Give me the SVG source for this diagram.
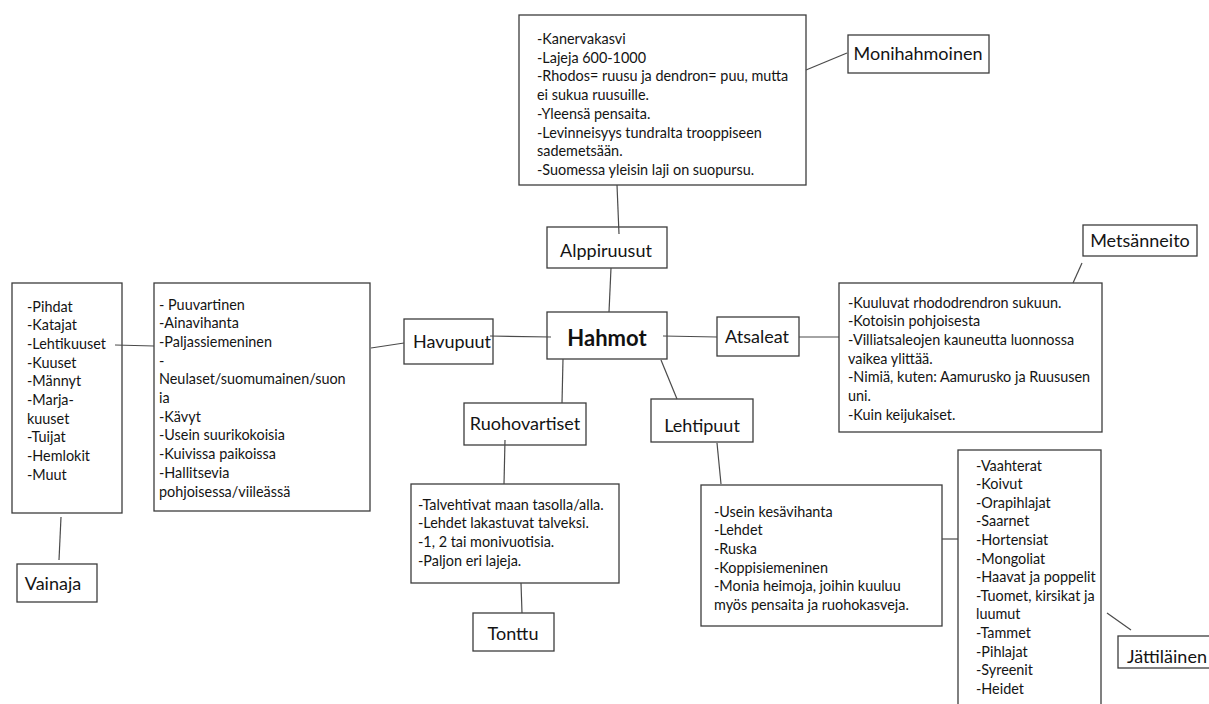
<svg xmlns="http://www.w3.org/2000/svg" width="1209" height="704" viewBox="0 0 1209 704">
  <style>
    .box { fill: #ffffff; stroke: #3c3c3c; stroke-width: 1.3; }
    .link { stroke: #4a4a4a; stroke-width: 1.2; fill: none; }
    .body { font-family: Lato, "Liberation Sans", sans-serif; font-size: 14.4px; fill: #141414; }
    .label { font-family: Lato, "Liberation Sans", sans-serif; font-size: 18px; fill: #141414; text-anchor: middle; }
    .title { font-family: Lato, "Liberation Sans", sans-serif; font-size: 22px; font-weight: bold; fill: #111111; text-anchor: middle; }
  </style>
  <rect width="1209" height="704" fill="#ffffff"/>

  <!-- boxes first, connector lines are drawn on top -->
  <g id="alppiruusut-info">
    <rect class="box" x="519" y="15" width="287" height="170"/>
    <text class="body" x="537">
      <tspan x="537" y="44">-Kanervakasvi</tspan>
      <tspan x="537" y="62.7">-Lajeja 600-1000</tspan>
      <tspan x="537" y="81.4">-Rhodos= ruusu ja dendron= puu, mutta</tspan>
      <tspan x="537" y="100.1">ei sukua ruusuille.</tspan>
      <tspan x="537" y="118.8">-Yleensä pensaita.</tspan>
      <tspan x="537" y="137.5">-Levinneisyys tundralta trooppiseen</tspan>
      <tspan x="537" y="156.2">sademetsään.</tspan>
      <tspan x="537" y="174.9">-Suomessa yleisin laji on suopursu.</tspan>
    </text>
  </g>

  <g id="monihahmoinen">
    <rect class="box" x="848" y="35" width="141" height="38"/>
    <text class="label" x="918" y="60">Monihahmoinen</text>
  </g>

  <g id="havupuut-list">
    <rect class="box" x="12" y="283" width="110" height="230"/>
    <text class="body">
      <tspan x="27" y="311.5">-Pihdat</tspan>
      <tspan x="27" y="330.2">-Katajat</tspan>
      <tspan x="27" y="348.9">-Lehtikuuset</tspan>
      <tspan x="27" y="367.6">-Kuuset</tspan>
      <tspan x="27" y="386.3">-Männyt</tspan>
      <tspan x="27" y="405">-Marja-</tspan>
      <tspan x="27" y="423.7">kuuset</tspan>
      <tspan x="27" y="442.4">-Tuijat</tspan>
      <tspan x="27" y="461.1">-Hemlokit</tspan>
      <tspan x="27" y="479.8">-Muut</tspan>
    </text>
  </g>

  <g id="havupuut-info">
    <rect class="box" x="154" y="283" width="216" height="228"/>
    <text class="body">
      <tspan x="159" y="309.5">- Puuvartinen</tspan>
      <tspan x="159" y="328.2">-Ainavihanta</tspan>
      <tspan x="159" y="346.9">-Paljassiemeninen</tspan>
      <tspan x="159" y="365.6">-</tspan>
      <tspan x="159" y="384.3">Neulaset/suomumainen/suon</tspan>
      <tspan x="159" y="403">ia</tspan>
      <tspan x="159" y="421.7">-Kävyt</tspan>
      <tspan x="159" y="440.4">-Usein suurikokoisia</tspan>
      <tspan x="159" y="459.1">-Kuivissa paikoissa</tspan>
      <tspan x="159" y="477.8">-Hallitsevia</tspan>
      <tspan x="159" y="496.5">pohjoisessa/viileässä</tspan>
    </text>
  </g>

  <g id="havupuut">
    <rect class="box" x="404" y="319" width="89" height="45"/>
    <text class="label" x="452" y="348">Havupuut</text>
  </g>

  <g id="alppiruusut">
    <rect class="box" x="547" y="227" width="120" height="41"/>
    <text class="label" x="606" y="257">Alppiruusut</text>
  </g>

  <g id="hahmot">
    <rect class="box" x="547" y="312" width="120" height="47"/>
    <text class="title" x="607" y="346">Hahmot</text>
  </g>

  <g id="atsaleat">
    <rect class="box" x="717" y="317" width="82" height="39"/>
    <text class="label" x="757" y="343">Atsaleat</text>
  </g>

  <g id="atsaleat-info">
    <rect class="box" x="839" y="283" width="263" height="149"/>
    <text class="body">
      <tspan x="848" y="307.5">-Kuuluvat rhododrendron sukuun.</tspan>
      <tspan x="848" y="326.2">-Kotoisin pohjoisesta</tspan>
      <tspan x="848" y="344.9">-Villiatsaleojen kauneutta luonnossa</tspan>
      <tspan x="848" y="363.6">vaikea ylittää.</tspan>
      <tspan x="848" y="382.3">-Nimiä, kuten: Aamurusko ja Ruususen</tspan>
      <tspan x="848" y="401">uni.</tspan>
      <tspan x="848" y="419.7">-Kuin keijukaiset.</tspan>
    </text>
  </g>

  <g id="metsanneito">
    <rect class="box" x="1083" y="225" width="114" height="31"/>
    <text class="label" x="1140" y="247">Metsänneito</text>
  </g>

  <g id="ruohovartiset">
    <rect class="box" x="464" y="403" width="122" height="42"/>
    <text class="label" x="525" y="430">Ruohovartiset</text>
  </g>

  <g id="ruohovartiset-info">
    <rect class="box" x="411" y="484" width="208" height="99"/>
    <text class="body">
      <tspan x="418" y="509.5">-Talvehtivat maan tasolla/alla.</tspan>
      <tspan x="418" y="528.2">-Lehdet lakastuvat talveksi.</tspan>
      <tspan x="418" y="546.9">-1, 2 tai monivuotisia.</tspan>
      <tspan x="418" y="565.6">-Paljon eri lajeja.</tspan>
    </text>
  </g>

  <g id="tonttu">
    <rect class="box" x="473" y="613" width="81" height="38"/>
    <text class="label" x="513" y="640">Tonttu</text>
  </g>

  <g id="lehtipuut">
    <rect class="box" x="651" y="399" width="102" height="43"/>
    <text class="label" x="702" y="432">Lehtipuut</text>
  </g>

  <g id="lehtipuut-info">
    <rect class="box" x="701" y="485" width="241" height="141"/>
    <text class="body">
      <tspan x="714" y="516.5">-Usein kesävihanta</tspan>
      <tspan x="714" y="535.2">-Lehdet</tspan>
      <tspan x="714" y="553.9">-Ruska</tspan>
      <tspan x="714" y="572.6">-Koppisiemeninen</tspan>
      <tspan x="714" y="591.3">-Monia heimoja, joihin kuuluu</tspan>
      <tspan x="714" y="610">myös pensaita ja ruohokasveja.</tspan>
    </text>
  </g>

  <g id="lehtipuut-list">
    <rect class="box" x="958" y="450" width="143" height="270"/>
    <text class="body">
      <tspan x="976" y="470.5">-Vaahterat</tspan>
      <tspan x="976" y="489.1">-Koivut</tspan>
      <tspan x="976" y="507.7">-Orapihlajat</tspan>
      <tspan x="976" y="526.3">-Saarnet</tspan>
      <tspan x="976" y="544.9">-Hortensiat</tspan>
      <tspan x="976" y="563.5">-Mongoliat</tspan>
      <tspan x="976" y="582.1">-Haavat ja poppelit</tspan>
      <tspan x="976" y="600.7">-Tuomet, kirsikat ja</tspan>
      <tspan x="976" y="619.3">luumut</tspan>
      <tspan x="976" y="637.9">-Tammet</tspan>
      <tspan x="976" y="656.5">-Pihlajat</tspan>
      <tspan x="976" y="675.1">-Syreenit</tspan>
      <tspan x="976" y="693.7">-Heidet</tspan>
    </text>
  </g>

  <g id="jattilainen">
    <rect class="box" x="1118" y="636" width="100" height="32"/>
    <text class="label" x="1127" y="663" style="text-anchor:start">Jättiläinen</text>
  </g>

  <g id="vainaja">
    <rect class="box" x="17" y="564" width="80" height="38"/>
    <text class="label" x="53" y="590">Vainaja</text>
  </g>

  <g id="connectors">
    <line class="link" x1="806" y1="70" x2="847" y2="53"/>
    <line class="link" x1="617" y1="185" x2="619" y2="234"/>
    <line class="link" x1="611" y1="268" x2="609" y2="312"/>
    <line class="link" x1="490" y1="336" x2="551" y2="337"/>
    <line class="link" x1="663" y1="336" x2="717" y2="337"/>
    <line class="link" x1="799" y1="337" x2="839" y2="337"/>
    <line class="link" x1="1082" y1="263" x2="1073" y2="283"/>
    <line class="link" x1="563" y1="359" x2="562" y2="403"/>
    <line class="link" x1="505" y1="440" x2="504" y2="484"/>
    <line class="link" x1="521" y1="583" x2="522" y2="613"/>
    <line class="link" x1="661" y1="360" x2="677" y2="399"/>
    <line class="link" x1="717" y1="443" x2="721" y2="484"/>
    <line class="link" x1="942" y1="539" x2="958" y2="539"/>
    <line class="link" x1="1107" y1="613" x2="1131" y2="630"/>
    <line class="link" x1="371" y1="348" x2="404" y2="343"/>
    <line class="link" x1="115" y1="345" x2="154" y2="346"/>
    <line class="link" x1="61" y1="517" x2="59" y2="560"/>
  </g>
</svg>
